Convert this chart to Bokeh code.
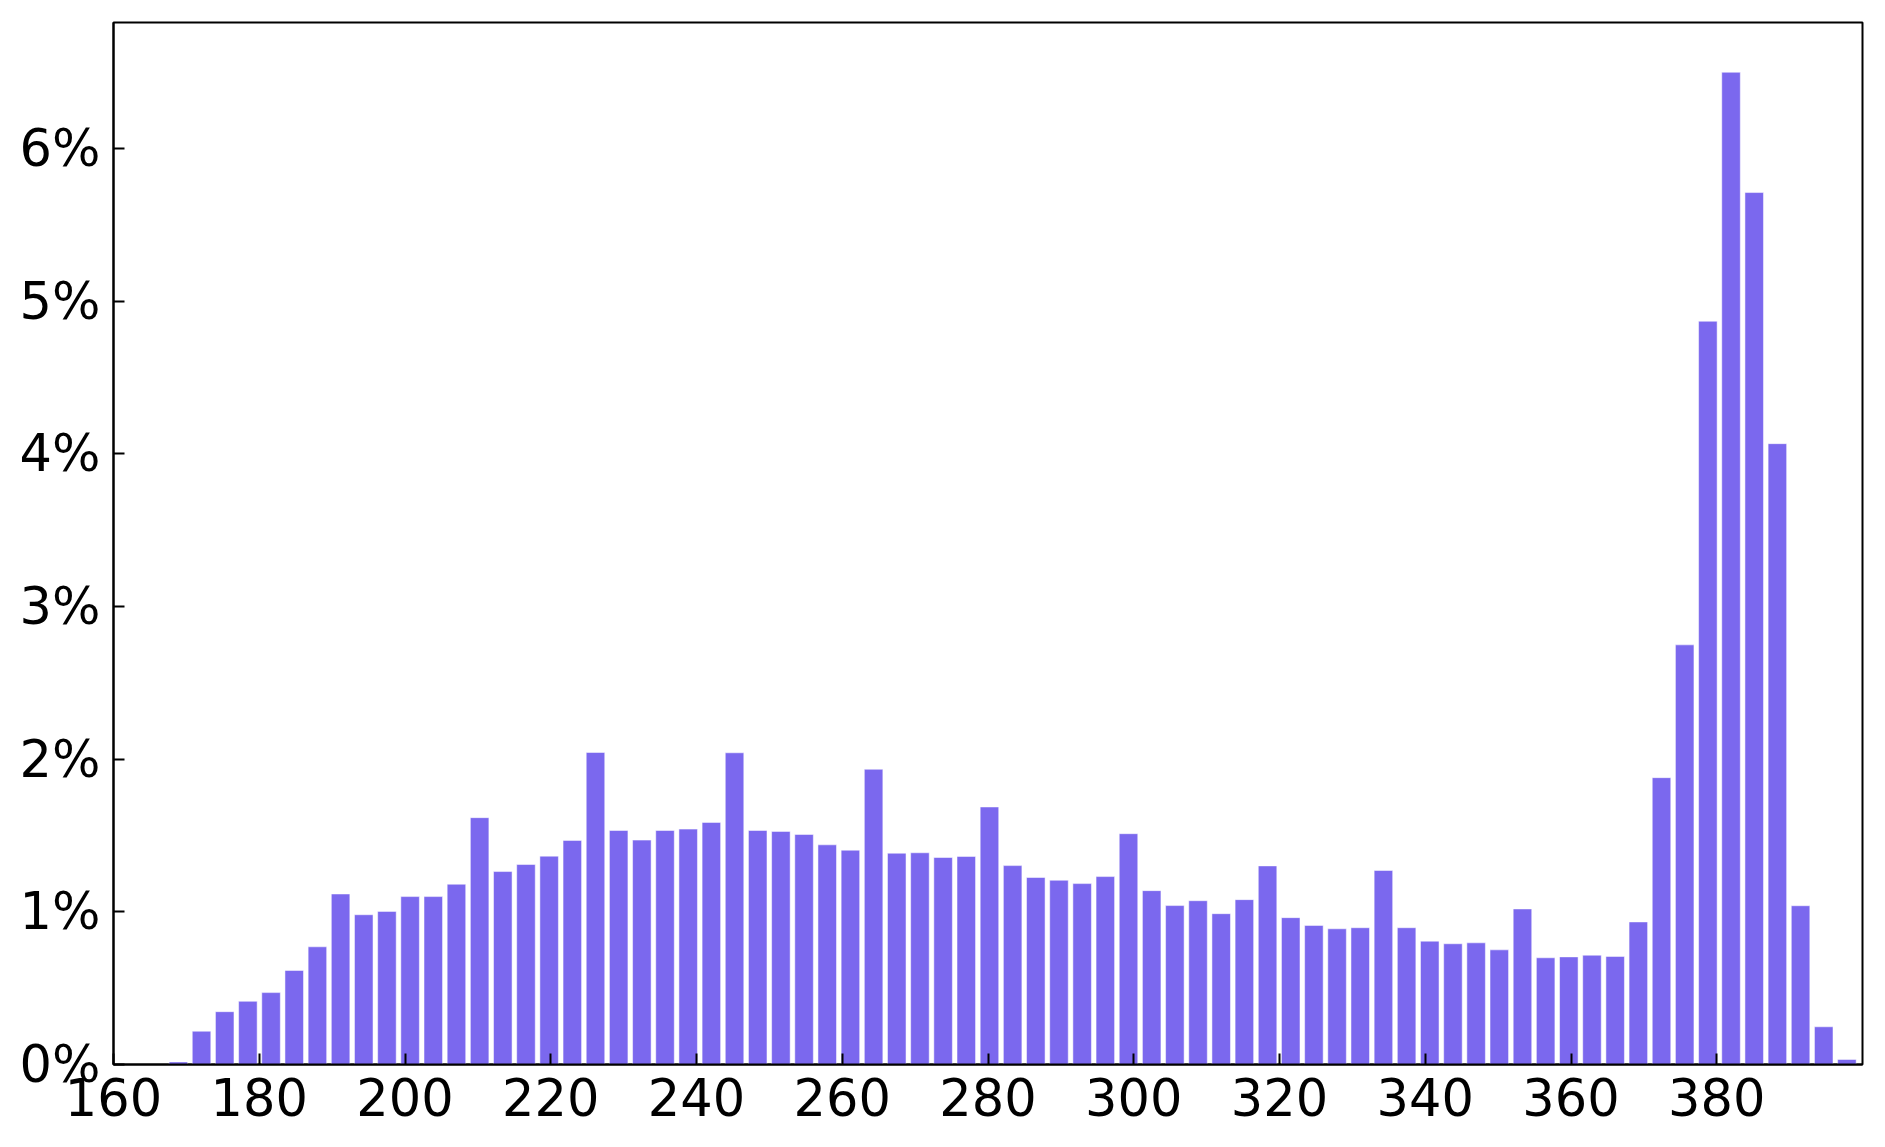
from bokeh.plotting import figure
from bokeh.models import Range1d, FixedTicker, ColumnDataSource
from bokeh.embed import file_html
from bokeh.resources import INLINE

bin_centers = [168.90, 172.08, 175.26, 178.44, 181.62, 184.80, 187.98, 191.16, 194.34, 197.52,
               200.70, 203.88, 207.06, 210.24, 213.42, 216.60, 219.78, 222.96, 226.14, 229.32,
               232.50, 235.68, 238.86, 242.04, 245.22, 248.40, 251.58, 254.76, 257.94, 261.12,
               264.30, 267.48, 270.66, 273.84, 277.02, 280.20, 283.38, 286.56, 289.74, 292.92,
               296.10, 299.28, 302.46, 305.64, 308.82, 312.00, 315.18, 318.36, 321.54, 324.72,
               327.90, 331.08, 334.26, 337.44, 340.62, 343.80, 346.98, 350.16, 353.34, 356.52,
               359.70, 362.88, 366.06, 369.24, 372.42, 375.60, 378.78, 381.96, 385.14, 388.32,
               391.50, 394.68, 397.86]

share_pct = [0.017, 0.218, 0.346, 0.414, 0.471, 0.616, 0.771, 1.117, 0.981, 1.003,
             1.100, 1.100, 1.181, 1.617, 1.264, 1.310, 1.365, 1.468, 2.044, 1.533,
             1.470, 1.533, 1.542, 1.586, 2.042, 1.533, 1.527, 1.507, 1.439, 1.404,
             1.934, 1.384, 1.387, 1.356, 1.363, 1.687, 1.303, 1.225, 1.207, 1.185,
             1.231, 1.512, 1.139, 1.041, 1.073, 0.988, 1.080, 1.301, 0.962, 0.911,
             0.889, 0.896, 1.271, 0.896, 0.808, 0.791, 0.797, 0.751, 1.019, 0.699,
             0.705, 0.716, 0.708, 0.934, 1.879, 2.749, 4.869, 6.500, 5.712, 4.067,
             1.040, 0.247, 0.033]

x_ticks = [160, 180, 200, 220, 240, 260, 280, 300, 320, 340, 360, 380]
y_ticks = [0, 1, 2, 3, 4, 5, 6]
y_tick_labels = ["0%", "1%", "2%", "3%", "4%", "5%", "6%"]

BIN_WIDTH = 3.18

source = ColumnDataSource(data=dict(x=bin_centers, top=share_pct))

p = figure(width=1877, height=1143, output_backend="svg", toolbar_location=None,
           x_range=Range1d(160, 400), y_range=Range1d(0, 6.826),
           min_border_left=113, min_border_right=15, min_border_top=22, min_border_bottom=79)

p.vbar(x="x", top="top", bottom=0, width=BIN_WIDTH * 0.8, source=source,
       fill_color="#7B68EE", line_color="white", line_alpha=0.5, line_width=1)

p.grid.visible = False
p.outline_line_color = "black"
p.outline_line_width = 2
p.outline_line_alpha = 1.0
p.background_fill_color = "white"
p.border_fill_color = "white"

for ax in (p.xaxis[0], p.yaxis[0]):
    ax.axis_line_color = "black"
    ax.axis_line_width = 2
    ax.major_tick_line_color = "black"
    ax.major_tick_line_width = 2
    ax.major_tick_in = 11
    ax.major_tick_out = 0
    ax.minor_tick_line_color = None
    ax.major_label_text_font = "DejaVu Sans"
    ax.major_label_text_font_size = "51px"
    ax.major_label_text_color = "black"
    ax.major_label_standoff = 13

p.xaxis[0].ticker = FixedTicker(ticks=x_ticks)
p.yaxis[0].ticker = FixedTicker(ticks=y_ticks)
p.yaxis[0].major_label_overrides = {t: l for t, l in zip(y_ticks, y_tick_labels)}

open("out.html", "w").write(file_html(p, INLINE))
